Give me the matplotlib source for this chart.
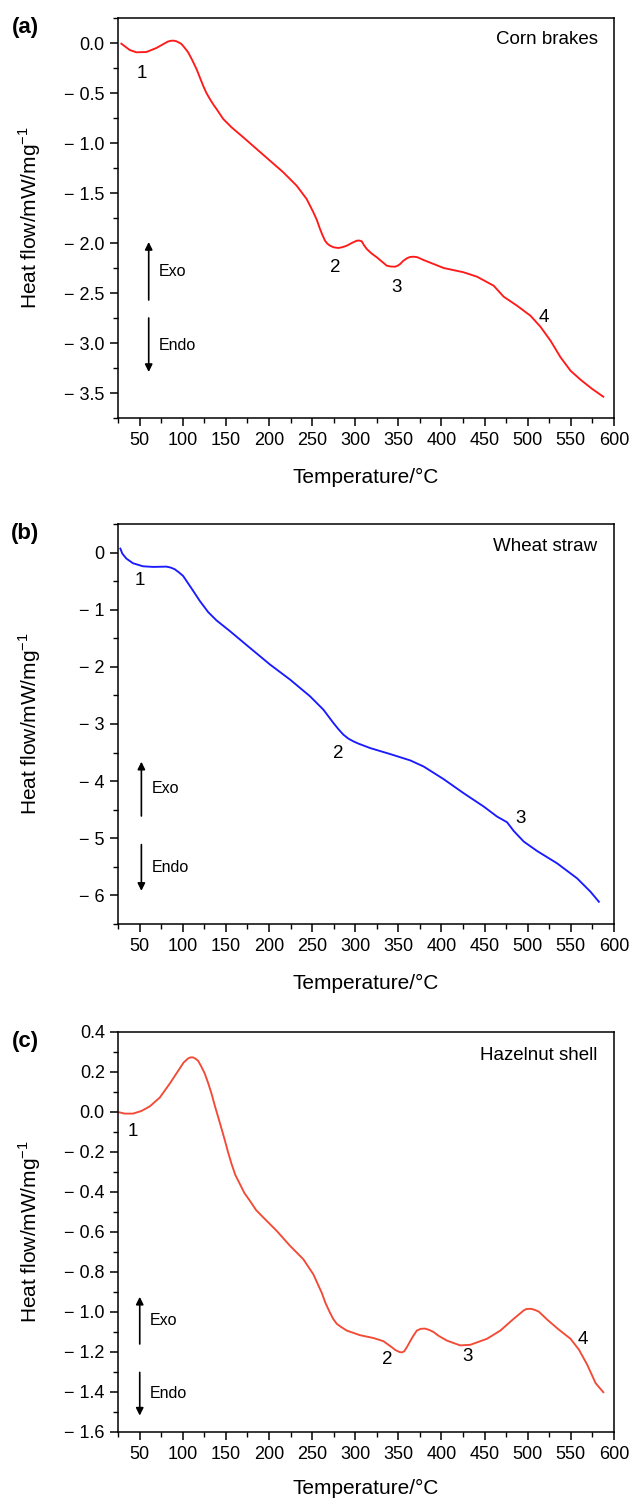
'''DSC curves of three biomass samples'''
import numpy as np
import matplotlib
matplotlib.use('Agg')
import matplotlib.pyplot as plt
from matplotlib.ticker import MultipleLocator, FuncFormatter

plt.rcParams['font.family'] = ['Liberation Sans', 'DejaVu Sans']

# corn brakes
temp_a = [28.9, 38.6, 46.3, 57.9, 69.5, 79.2, 83.0, 87.0, 90.0, 92.8, 95.5, 98.6,
          102.0, 106.3, 111.0, 116.0, 123.7, 127.5, 131.5, 135.5, 139.2, 147.0,
          156.6, 170.2, 185.7, 201.2, 216.6, 232.1, 243.7, 251.5, 255.5, 259.2,
          262.0, 265.0, 267.5, 270.8, 275.0, 280.5, 285.0, 290.2, 296.0, 301.8,
          304.5, 307.6, 310.0, 313.4, 319.0, 325.0, 336.6, 341.0, 346.3, 349.0,
          352.1, 355.5, 359.9, 363.5, 367.6, 372.0, 379.2, 402.5, 425.7, 441.2,
          460.5, 472.1, 487.6, 503.1, 514.7, 526.4, 538.0, 549.6, 561.2, 574.8,
          587.6]
hf_a = [-0.007, -0.07, -0.093, -0.09, -0.05, -0.003, 0.015, 0.023, 0.023, 0.017,
        0.005, -0.01, -0.045, -0.093, -0.17, -0.26, -0.427, -0.5, -0.56, -0.615,
        -0.66, -0.76, -0.843, -0.943, -1.06, -1.177, -1.293, -1.427, -1.56,
        -1.693, -1.77, -1.86, -1.92, -1.977, -2.005, -2.027, -2.043, -2.05,
        -2.042, -2.027, -2.0, -1.977, -1.975, -1.983, -2.02, -2.06, -2.105,
        -2.143, -2.227, -2.235, -2.237, -2.228, -2.21, -2.18, -2.153, -2.14,
        -2.137, -2.142, -2.17, -2.25, -2.293, -2.337, -2.427, -2.537, -2.627,
        -2.727, -2.837, -2.977, -3.143, -3.277, -3.367, -3.46, -3.537]

# wheat straw
temp_b = [27.7, 30.0, 34.7, 42.4, 54.0, 65.6, 81.1, 86.0, 90.8, 95.5, 100.5,
          105.0, 110.2, 119.9, 129.5, 139.2, 154.7, 177.9, 201.2, 224.4, 247.6,
          263.1, 274.7, 280.5, 286.3, 292.0, 297.9, 304.0, 317.3, 340.5, 363.8,
          379.2, 402.5, 425.7, 448.9, 464.4, 476.0, 483.7, 495.4, 510.8, 534.1,
          557.3, 572.8, 582.5]
hf_b = [0.07, -0.018, -0.105, -0.187, -0.24, -0.251, -0.246, -0.262, -0.292,
        -0.345, -0.409, -0.51, -0.626, -0.848, -1.041, -1.187, -1.374, -1.667,
        -1.959, -2.222, -2.515, -2.749, -2.982, -3.09, -3.187, -3.255, -3.304,
        -3.345, -3.421, -3.526, -3.637, -3.743, -3.965, -4.211, -4.444, -4.62,
        -4.719, -4.871, -5.058, -5.222, -5.439, -5.702, -5.936, -6.111]

# hazelnut shell
temp_c = [25.0, 32.7, 42.4, 52.1, 61.8, 73.4, 85.0, 96.6, 101.0, 106.3, 109.0,
          112.1, 115.0, 117.9, 121.5, 125.6, 129.5, 133.4, 137.0, 141.1, 145.0,
          148.9, 152.5, 156.6, 161.0, 166.3, 171.5, 177.9, 185.0, 193.4, 208.9,
          224.4, 239.8, 251.5, 261.2, 265.5, 270.8, 274.5, 278.6, 283.0, 290.2,
          305.6, 321.1, 332.7, 342.4, 346.5, 351.3, 354.0, 356.7, 360.0, 363.7,
          367.5, 371.4, 376.0, 381.1, 386.0, 390.8, 397.0, 406.3, 421.7, 433.4,
          452.7, 468.2, 483.7, 495.4, 498.5, 503.9, 508.5, 512.8, 522.5, 536.0,
          549.6, 559.3, 569.0, 578.7, 587.6]
hf_c = [0.0, -0.008, -0.008, 0.005, 0.028, 0.072, 0.142, 0.218, 0.247, 0.268,
        0.273, 0.273, 0.266, 0.256, 0.228, 0.192, 0.145, 0.092, 0.035, -0.025,
        -0.083, -0.142, -0.2, -0.259, -0.315, -0.36, -0.405, -0.444, -0.49,
        -0.527, -0.594, -0.669, -0.736, -0.812, -0.904, -0.955, -1.004, -1.035,
        -1.059, -1.073, -1.093, -1.116, -1.13, -1.146, -1.176, -1.19, -1.2,
        -1.202, -1.197, -1.175, -1.146, -1.118, -1.093, -1.084, -1.083, -1.09,
        -1.1, -1.12, -1.143, -1.167, -1.164, -1.134, -1.093, -1.034, -0.992,
        -0.985, -0.984, -0.99, -0.998, -1.038, -1.088, -1.134, -1.188, -1.264,
        -1.356, -1.401]

names = ['Corn brakes', 'Wheat straw', 'Hazelnut shell']
letters = ['(a)', '(b)', '(c)']
colors = ['#ff1a1a', '#1a1aff', '#f24a35']

# peak labels: (temperature, heat flow, text)
peaks_a = [(52.9, -0.30, '1'), (276.6, -2.25, '2'), (348.3, -2.44, '3'), (518.6, -2.75, '4')]
peaks_b = [(50.2, -0.48, '1'), (280.5, -3.51, '2'), (491.5, -4.65, '3')]
peaks_c = [(41.6, -0.097, '1'), (336.6, -1.235, '2'), (430.7, -1.222, '3'), (564.3, -1.135, '4')]

ylims = [(-3.75, 0.25), (-6.5, 0.5), (-1.6, 0.4)]
ymajor = [0.5, 1.0, 0.2]
yminor = [0.25, 0.5, 0.1]
ydec = [1, 0, 1]
# exo/endo arrows: x, exo (start, end), endo (start, end)
arrows = [(60.6, (-2.57, -1.99), (-2.75, -3.29)),
          (52.1, (-4.61, -3.66), (-5.11, -5.92)),
          (50.2, (-1.16, -0.924), (-1.302, -1.518))]
name_y = [0.04, 0.10, 0.281]
xlabel_y = [-0.125, -0.125, -0.118]

fig = plt.figure(figsize=(6.32, 14.98), dpi=100)
W, H = 632.0, 1498.0
tops = [18, 524, 1032]
left, right = 118, 614

def fmt(dec):
    def f(v, pos):
        s = f'{abs(v):.{dec}f}'
        if round(v, 6) < 0:
            return '\u2212 ' + s
        return s
    return f

data = [(temp_a, hf_a, peaks_a), (temp_b, hf_b, peaks_b), (temp_c, hf_c, peaks_c)]
for i, (T, Q, peaks) in enumerate(data):
    top = tops[i]
    ax = fig.add_axes([left / W, 1 - (top + 400) / H, (right - left) / W, 400 / H])
    ax.plot(T, Q, color=colors[i], lw=1.35)
    ax.set_xlim(25, 600)
    ax.set_ylim(*ylims[i])
    ax.xaxis.set_major_locator(MultipleLocator(50))
    ax.xaxis.set_minor_locator(MultipleLocator(25))
    ax.yaxis.set_major_locator(MultipleLocator(ymajor[i]))
    ax.yaxis.set_minor_locator(MultipleLocator(yminor[i]))
    ax.yaxis.set_major_formatter(FuncFormatter(fmt(ydec[i])))
    ax.tick_params(which='major', direction='out', length=6, width=1.1,
                   labelsize=13, top=False, right=False)
    ax.tick_params(which='minor', direction='out', length=3.5, width=1.0,
                   top=False, right=False)
    ax.tick_params(axis='x', which='major', pad=4)
    for sp in ax.spines.values():
        sp.set_linewidth(1.1)
    ax.set_xlabel('Temperature/\u00b0C', fontsize=15)
    ax.xaxis.set_label_coords(0.5, xlabel_y[i])
    ax.set_ylabel('Heat flow/mW/mg$^{\\mathregular{-1}}$', fontsize=15)
    ax.yaxis.set_label_coords(-0.152, 0.5)

    for x, y, s in peaks:
        ax.text(x, y, s, fontsize=13.5, ha='center', va='center')
    ax.text(581, name_y[i], names[i], fontsize=13.5, ha='right', va='center')
    ax.text(-0.1875, 0.975, letters[i], transform=ax.transAxes, fontsize=16,
            fontweight='bold', ha='center', va='center')

    ax_x, exo, endo = arrows[i]
    for (y0, y1) in (exo, endo):
        ax.annotate('', xy=(ax_x, y1), xytext=(ax_x, y0),
                    arrowprops=dict(arrowstyle='-|>', color='k', lw=1.2,
                                    mutation_scale=11, shrinkA=0, shrinkB=0))
    ax.text(ax_x + 12, (exo[0] + exo[1]) / 2, 'Exo', fontsize=11.5, ha='left', va='center')
    ax.text(ax_x + 12, (endo[0] + endo[1]) / 2, 'Endo', fontsize=11.5, ha='left', va='center')

fig.savefig('out.png', dpi=100)
